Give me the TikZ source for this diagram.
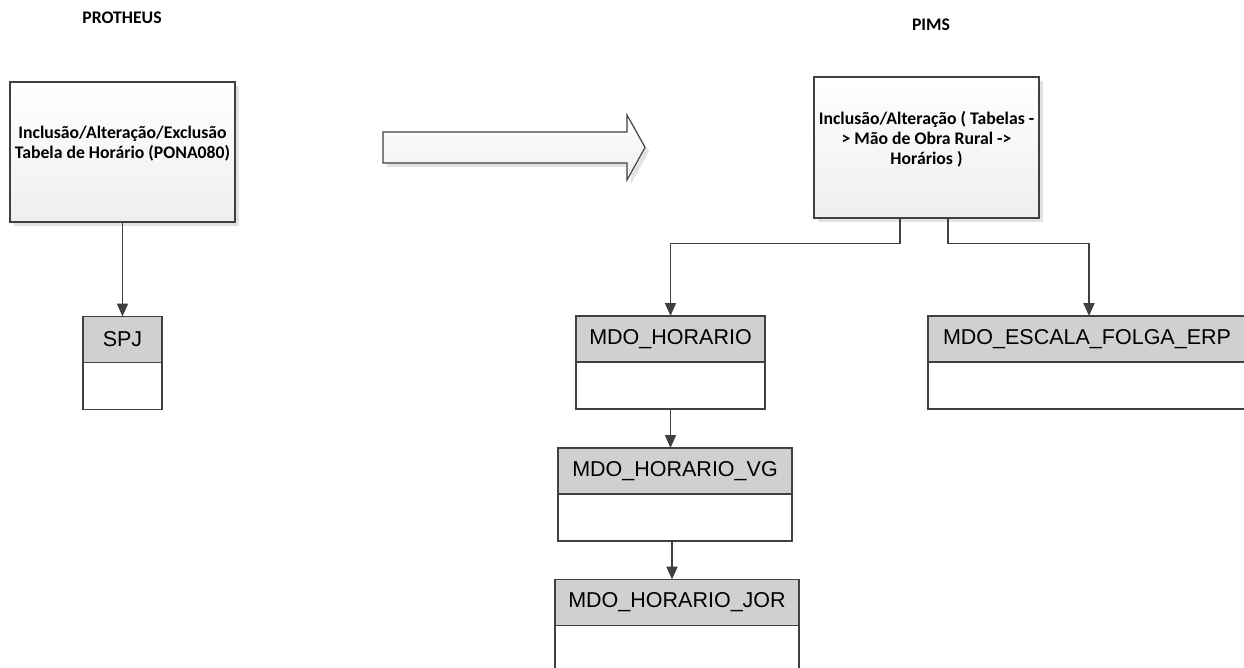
\documentclass[tikz,border=0pt]{standalone}
\usepackage{fontspec}
\setmainfont{Carlito}
\newfontfamily\tabfont{Liberation Sans}
\usetikzlibrary{arrows.meta,positioning,shadows}
\definecolor{linegray}{HTML}{404040}
\definecolor{headgray}{HTML}{D0D0D0}
\begin{document}
\begin{tikzpicture}[x=1pt, y=-1pt,
  font=\bfseries\fontsize{17.7}{20}\selectfont,
  box/.style={draw=linegray, line width=1.1pt, top color=white, bottom color=gray!13, align=center,
    minimum width=225pt, drop shadow={shadow xshift=4pt, shadow yshift=-4pt, fill=gray!45, opacity=.5}},
  head/.style={draw=linegray, line width=1.4pt, fill=headgray, outer sep=0pt, minimum height=46pt,
    font=\tabfont\fontsize{21.5}{25}\selectfont},
  body/.style={draw=linegray, line width=1.4pt, fill=white, outer sep=0pt, minimum height=47pt},
  arr/.style={-{Triangle[width=11pt,length=13pt]}, draw=linegray, line width=1.9pt}
]
\useasboundingbox (0,0) rectangle (1244,668);
% titles
\node (tp) at (122,18) {PROTHEUS};
\node (tm) at (931,25) {PIMS};
% source / target screens
\node[box, minimum height=140pt] (pr) at (122.5,152) {Inclusão/Alteração/Exclusão\\Tabela de Horário (PONA080)\\\mbox{}};
\node[box, minimum height=141pt] (pm) at (926.5,147.5) {Inclusão/Alteração ( Tabelas -\\> Mão de Obra Rural ->\\Horários )\\\mbox{}};
% big arrow
\draw[linegray, line width=1.1pt, top color=white, bottom color=gray!13,
  drop shadow={shadow xshift=4pt, shadow yshift=-4pt, fill=gray!45, opacity=.5}]
  (383,132) -- (627,132) -- (627,115) -- (645,147.5) -- (627,180) -- (627,163) -- (383,163) -- cycle;
% tables
\node[head, minimum width=79pt] (spj) at (122.5,339.5) {SPJ};
\node[body, minimum width=79pt, below=0pt of spj] (spjb) {};
\node[head, minimum width=189pt] (ho) at (670.5,339) {MDO\_HORARIO};
\node[body, minimum width=189pt, below=0pt of ho] (hob) {};
\node[head, minimum width=234pt] (vg) at (675,471) {MDO\_HORARIO\_VG};
\node[body, minimum width=234pt, below=0pt of vg] (vgb) {};
\node[head, minimum width=244pt] (jor) at (677,602.5) {MDO\_HORARIO\_JOR};
\node[body, minimum width=244pt, below=0pt of jor] (jorb) {};
\node[head, minimum width=318pt] (es) at (1087,339) {MDO\_ESCALA\_FOLGA\_ERP};
\node[body, minimum width=318pt, below=0pt of es] (esb) {};
% links
\draw[arr] (pr) -- (spj);
\draw[arr] ([xshift=-26.5pt]pm.south) -- ++(0,25) -| (ho.north);
\draw[arr] ([xshift=21.5pt]pm.south) -- ++(0,25) -| ([xshift=2pt]es.north);
\draw[arr] (hob.south) -- (hob.south |- vg.north);
\draw[arr] ([xshift=-3pt]vgb.south) -- ([xshift=-3pt]vgb.south |- jor.north);
\end{tikzpicture}
\end{document}
